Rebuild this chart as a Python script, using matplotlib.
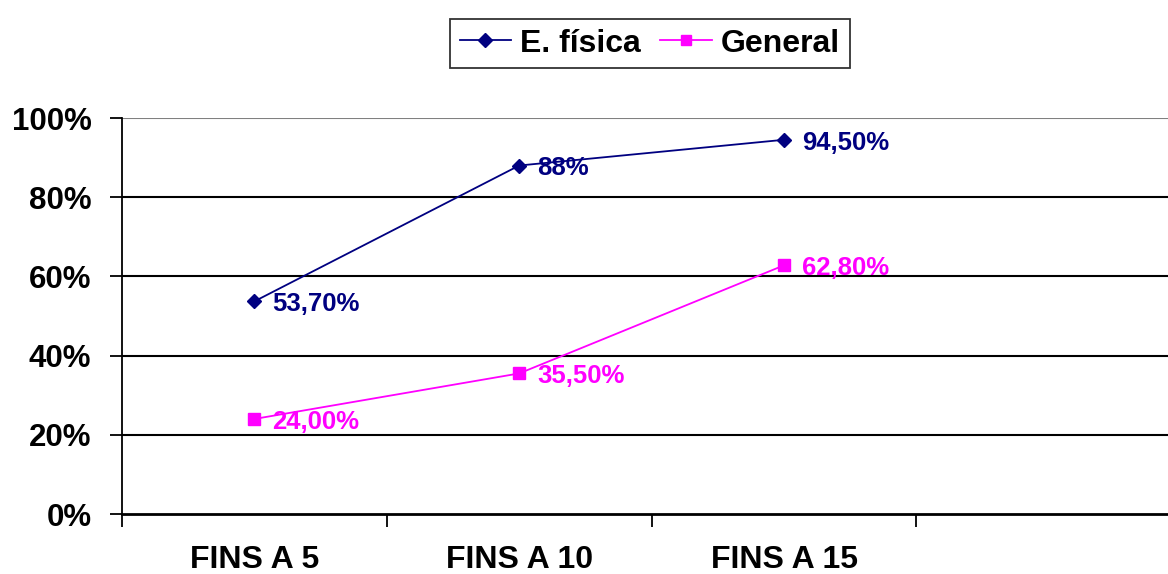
import matplotlib
matplotlib.use("Agg")
import matplotlib.pyplot as plt
from matplotlib.ticker import FixedLocator, PercentFormatter

plt.rcParams['font.family'] = ['Liberation Sans', 'DejaVu Sans']
plt.rcParams['font.weight'] = 'bold'

categories = ["FINS A 5", "FINS A 10", "FINS A 15"]
efisica = [53.7, 88.0, 94.5]
general = [24.0, 35.5, 62.8]
efisica_labels = ["53,70%", "88%", "94,50%"]
general_labels = ["24,00%", "35,50%", "62,80%"]
yticks = [0, 20, 40, 60, 80, 100]

NAVY = "#000080"
MAGENTA = "#FF00FF"

fig = plt.figure(figsize=(11.68, 5.74), dpi=100)
ax = fig.add_axes([122/1168, 1-514/574, (1168-122)/1168, (514-118)/574])

x = list(range(len(categories)))
l1, = ax.plot(x, efisica, color=NAVY, lw=1.3, marker='D', markersize=7,
              markerfacecolor=NAVY, markeredgecolor=NAVY, label="E. física", zorder=3, clip_on=False)
l2, = ax.plot(x, general, color=MAGENTA, lw=1.3, marker='s', markersize=9,
              markerfacecolor=MAGENTA, markeredgecolor=MAGENTA, label="General", zorder=3, clip_on=False)

for xi, v, t in zip(x, efisica, efisica_labels):
    ax.annotate(t, (xi, v), xytext=(13, -2), textcoords='offset points',
                ha='left', va='center', color=NAVY, fontsize=18.5, fontweight='bold')
for xi, v, t in zip(x, general, general_labels):
    ax.annotate(t, (xi, v), xytext=(13, -2), textcoords='offset points',
                ha='left', va='center', color=MAGENTA, fontsize=18.5, fontweight='bold')

ax.set_xlim(-0.5, 3.45)
ax.set_ylim(0, 100)

ax.set_xticks(x)
ax.set_xticklabels(categories, fontsize=23, fontweight='bold')
ax.tick_params(axis='x', which='major', length=0, pad=22)
ax.xaxis.set_minor_locator(FixedLocator([-0.5, 0.5, 1.5, 2.5]))
ax.tick_params(axis='x', which='minor', length=9, width=1.3, direction='out', color='black')

ax.set_yticks(yticks)
ax.yaxis.set_major_formatter(PercentFormatter(decimals=0))
ax.tick_params(axis='y', which='major', length=9, width=1.3, direction='out', pad=13, labelsize=22.5)
for lbl in ax.get_yticklabels():
    lbl.set_fontweight('bold')

for yv in yticks[1:-1]:
    ax.axhline(yv, color='black', lw=1.5, zorder=1)
ax.axhline(100, color='#808080', lw=1.5, zorder=1)

for s in ['top', 'right']:
    ax.spines[s].set_visible(False)
ax.spines['left'].set_linewidth(1.3)
ax.spines['bottom'].set_linewidth(2.0)

leg = fig.legend(handles=[l1, l2], loc='center', bbox_to_anchor=(650/1168, 1-43.5/574),
                 ncol=2, frameon=True, fancybox=False, edgecolor='black',
                 prop={'size': 23, 'weight': 'bold'}, handlelength=1.6,
                 handletextpad=0.3, columnspacing=0.6, borderpad=0.3, borderaxespad=0)
leg.get_frame().set_linewidth(1.3)
for h in leg.legend_handles:
    h.set_markersize(7)

fig.savefig("out.png", dpi=100)
